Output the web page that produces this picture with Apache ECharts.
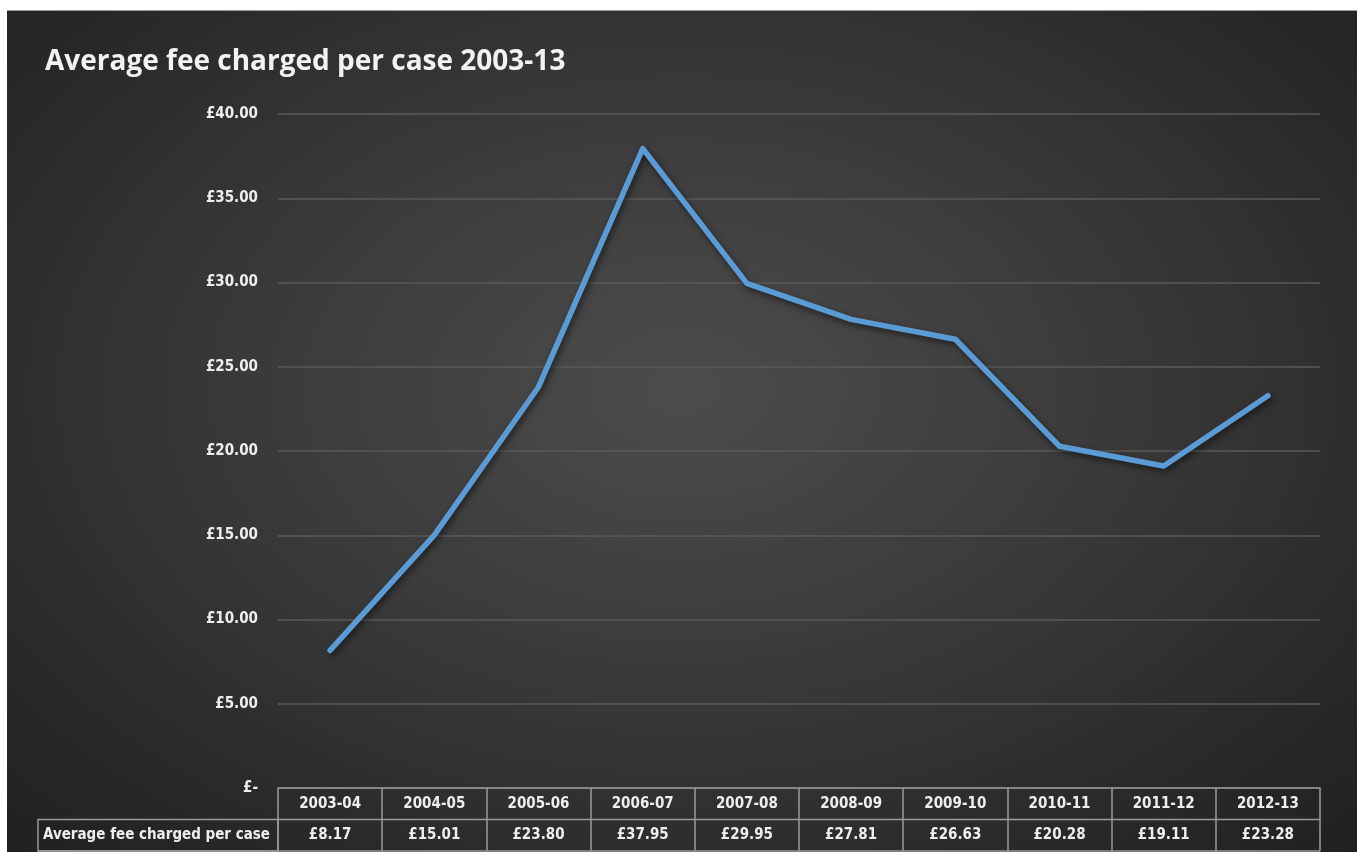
<!DOCTYPE html>
<html><head><meta charset="utf-8">
<script src="https://cdn.jsdelivr.net/npm/echarts@6/dist/echarts.min.js"></script>
<style>
html,body{margin:0;padding:0;background:#fff;width:1357px;height:852px;overflow:hidden;}
#c{position:absolute;left:7px;top:10px;width:1350px;height:842px;
background:radial-gradient(ellipse 75% 80% at 50% 45%, #4c4c4c 0%, #3b3b3b 40%, #272727 80%, #1f1f1f 100%);
border-top:1px solid #999;}
</style></head>
<body><div id="c"></div>
<script>
const categories = ['2003-04','2004-05','2005-06','2006-07','2007-08','2008-09','2009-10','2010-11','2011-12','2012-13'];
const feeValues = [8.17, 15.01, 23.80, 37.95, 29.95, 27.81, 26.63, 20.28, 19.11, 23.28];
const seriesName = 'Average fee charged per case';
const titleText = 'Average fee charged per case 2003-13';

const FONT = '"Liberation Sans Narrow","DejaVu Sans Condensed","Open Sans",sans-serif';
const chart = echarts.init(document.getElementById('c'), null, {renderer:'canvas'});
const G = {left:271, top:103, right:37, bottom:65};
const W = 1350, H = 842;
const axisY = H - G.bottom;      // y of zero line
const rowH = 31.5;
const fmt = v => v === 0 ? '£-' : '£' + v.toFixed(2);

chart.setOption({
  backgroundColor: 'transparent',
  animation: false,
  title: {
    text: titleText, left: 33, top: 32,
    textStyle: {color:'#f2f2f2', fontSize: 28, fontWeight: 'bold', fontFamily: '"Open Sans",sans-serif'}
  },
  grid: G,
  xAxis: {
    type: 'category', data: categories, boundaryGap: true,
    axisLine: {show: true, lineStyle: {color: '#9a9a9a', width: 1.5}},
    axisTick: {show: true, interval: 0, length: rowH * 2, lineStyle: {color: '#9a9a9a', width: 1.5}},
    axisLabel: {
      interval: 0, margin: 0,
      formatter: (v, i) => '{y|' + v + '}\n{v|' + '£' + feeValues[i].toFixed(2) + '}',
      rich: {
        y: {color:'#eeeeee', fontSize: 15, fontWeight:'bold', fontFamily: FONT, lineHeight: rowH, height: rowH, verticalAlign:'middle'},
        v: {color:'#eeeeee', fontSize: 15, fontWeight:'bold', fontFamily: FONT, lineHeight: rowH, height: rowH, verticalAlign:'middle'}
      }
    }
  },
  yAxis: {
    type: 'value', min: 0, max: 40, interval: 5,
    axisLine: {show: false}, axisTick: {show: false},
    axisLabel: {formatter: fmt, color: '#eeeeee', fontSize: 15, fontWeight: 'bold', fontFamily: FONT, margin: 20},
    splitLine: {lineStyle: {color: '#5a5a5a', width: 1.5}}
  },
  series: [{
    name: seriesName, type: 'line', data: feeValues,
    showSymbol: false, symbol: 'none',
    lineStyle: {color: '#5b9bd5', width: 5.5, cap: 'round', join: 'round',
      shadowColor: 'rgba(0,0,0,0.55)', shadowBlur: 6, shadowOffsetX: 2, shadowOffsetY: 3}
  }],
  graphic: [
    {type:'line', shape:{x1: G.left, y1: axisY + rowH, x2: W - G.right, y2: axisY + rowH}, style:{stroke:'#9a9a9a', lineWidth:1.5}, silent:true},
    {type:'line', shape:{x1: 31, y1: axisY + rowH*2, x2: W - G.right, y2: axisY + rowH*2}, style:{stroke:'#9a9a9a', lineWidth:1.5}, silent:true},
    {type:'rect', shape:{x: 31, y: axisY + rowH, width: G.left - 31, height: rowH}, style:{fill:'none', stroke:'#9a9a9a', lineWidth:1.5}, silent:true},
    {type:'text', x: 36, y: axisY + rowH*1.5, style:{text: seriesName, fill:'#eeeeee', fontSize:15, fontWeight:'bold', fontFamily: FONT, verticalAlign:'middle', align:'left'}, silent:true}
  ]
});
</script></body></html>
